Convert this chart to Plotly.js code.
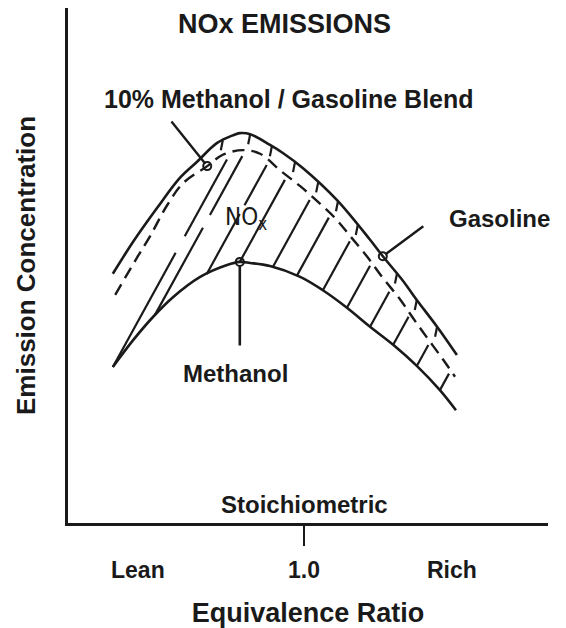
<!DOCTYPE html>
<html>
<head>
<meta charset="utf-8">
<script src="https://cdn.plot.ly/plotly-3.0.1.min.js"></script>
<style>html,body{margin:0;padding:0;background:#fff;}#chart{width:566px;height:628px;}</style>
</head>
<body>
<div id="chart"></div>
<script>
// ---- Data (x = equivalence ratio, y = relative emission concentration) ----
const gasolineX = [0.595,0.638,0.689,0.737,0.773,0.816,0.850,0.864,0.886,0.928,0.956,0.998,1.070,1.140,1.167,1.210,1.239,1.282,1.324];
const gasolineY = [48.4,54.6,61.2,67.0,70.1,73.8,75.3,75.7,75.5,73.4,71.8,68.9,62.7,55.0,51.8,47.0,43.3,38.1,32.6];

const blendX = [0.600,0.646,0.674,0.710,0.744,0.795,0.828,0.871,0.907,0.949,0.992,1.028,1.066,1.098,1.134,1.167,1.203,1.231,1.263,1.295,1.320];
const blendY = [44.3,51.5,55.7,61.7,66.0,69.3,71.5,72.4,71.7,68.5,65.4,62.5,59.2,55.7,51.7,47.6,43.5,39.8,35.7,31.7,28.4];

const methanolX = [0.595,0.638,0.680,0.723,0.780,0.837,0.864,0.886,0.928,0.992,1.040,1.091,1.140,1.189,1.239,1.288,1.322];
const methanolY = [30.3,35.5,40.0,43.9,47.8,50.1,50.7,50.5,49.9,47.8,45.2,41.8,38.1,34.6,30.5,25.8,21.9];

// hatch lines start on the methanol curve at these ratios; short ticks hang from the gasoline curve
const hatchX = [0.595,0.684,0.794,0.864,0.934,0.985,1.040,1.091,1.140,1.189,1.239,1.288];
const tickX  = [0.828,0.886,0.932,0.981,1.030,1.072,1.114,1.197,1.239,1.282];

const axisLabels = ['Lean','1.0','Rich'];
const axisLabelX = [0.648,1.0,1.314];
const stoichX = 1.0;

// ---- Layout geometry ----
const W=566,H=628, M={l:68,r:18,t:8,b:105,pad:0};
const XR=[0.5,1.517], YR=[0,100];
const PW=W-M.l-M.r, PH=H-M.t-M.b;
const toPx=x=>M.l+(x-XR[0])/(XR[1]-XR[0])*PW;
const toPy=y=>M.t+PH-(y-YR[0])/(YR[1]-YR[0])*PH;
const fromPx=p=>XR[0]+(p-M.l)/PW*(XR[1]-XR[0]);
const fromPy=p=>YR[0]+(M.t+PH-p)/PH*(YR[1]-YR[0]);
function interp(xs,ys,x){
  if(x<=xs[0]) return ys[0];
  for(let i=1;i<xs.length;i++){ if(x<=xs[i]){const t=(x-xs[i-1])/(xs[i]-xs[i-1]);return ys[i-1]+t*(ys[i]-ys[i-1]);} }
  return ys[ys.length-1];
}

// hatch segments: from methanol curve up-right toward the blend curve
const hx=[],hy=[];
const slant=0.55, gap=6;
hatchX.forEach(x0=>{
  const sx=toPx(x0), sy=toPy(interp(methanolX,methanolY,x0));
  let t=0, ex=sx, ey=sy;
  while(t<400){
    const qx=sx+slant*t, qy=sy-t;
    const by=toPy(interp(blendX,blendY,fromPx(qx)));
    if(qy<=by+gap){ex=qx;ey=qy;break;}
    t+=0.5;
  }
  const len=sy-ey;
  if(len>100){
    const f1=0.55,f2=0.63;
    hx.push(fromPx(sx),fromPx(sx+(ex-sx)*f1),null,fromPx(sx+(ex-sx)*f2),fromPx(ex),null);
    hy.push(fromPy(sy),fromPy(sy+(ey-sy)*f1),null,fromPy(sy+(ey-sy)*f2),fromPy(ey),null);
  } else {
    hx.push(fromPx(sx),fromPx(ex),null);
    hy.push(fromPy(sy),fromPy(ey),null);
  }
});
const tx=[],ty=[];
tickX.forEach(x0=>{
  const sx=toPx(x0), sy=toPy(interp(gasolineX,gasolineY,x0));
  tx.push(x0,fromPx(sx-2),null);
  ty.push(fromPy(sy),fromPy(sy+10),null);
});

const ink='#1a1a1a';
const iBlend=5, iGas=14, iMeth=6;
const traces=[
  {x:hx,y:hy,mode:'lines',line:{color:ink,width:2.2},hoverinfo:'skip',showlegend:false},
  {x:tx,y:ty,mode:'lines',line:{color:ink,width:2.2},hoverinfo:'skip',showlegend:false},
  {name:'Gasoline',x:gasolineX,y:gasolineY,mode:'lines',line:{color:ink,width:2.6,shape:'spline'}},
  {name:'10% Methanol / Gasoline Blend',x:blendX,y:blendY,mode:'lines',line:{color:ink,width:2.4,shape:'spline',dash:'12px,7px'}},
  {name:'Methanol',x:methanolX,y:methanolY,mode:'lines',line:{color:ink,width:2.6,shape:'spline'}},
  {x:[blendX[iBlend],gasolineX[iGas],methanolX[iMeth]],y:[blendY[iBlend],gasolineY[iGas],methanolY[iMeth]],
   mode:'markers',marker:{symbol:'circle-open',size:8,color:ink,line:{width:2,color:ink}},hoverinfo:'skip',showlegend:false}
];

const bold='Liberation Sans, Arial, Helvetica, sans-serif';
const ann=(text,x,y,size,extra)=>Object.assign({text,x,y,xref:'paper',yref:'paper',showarrow:false,
  font:{family:bold,size,color:ink,weight:'bold'},xanchor:'center',yanchor:'middle'},extra||{});
const yp=p=>(M.t+PH-p)/PH, xp=p=>(p-M.l)/PW;

const annotations=[
  ann('10% Methanol / Gasoline Blend',xp(102),yp(99),25,{xanchor:'left'}),
  ann('Gasoline',xp(447),yp(218),24,{xanchor:'left'}),
  ann('Methanol',xp(181),yp(373),24,{xanchor:'left'}),
  {text:'NO<sub>x</sub>',x:xp(223),y:yp(218),xref:'paper',yref:'paper',showarrow:false,xanchor:'left',yanchor:'middle',
   font:{family:'Liberation Sans Narrow, DejaVu Sans Condensed, sans-serif',size:24,color:ink}},
  ann('Stoichiometric',xp(304),yp(504),24),
  // pointer lines
  {x:blendX[iBlend],y:blendY[iBlend],xref:'x',yref:'y',text:'',showarrow:true,arrowhead:0,arrowwidth:2.4,arrowcolor:ink,ax:-37,ay:-46,standoff:3},
  {x:gasolineX[iGas],y:gasolineY[iGas],xref:'x',yref:'y',text:'',showarrow:true,arrowhead:0,arrowwidth:2.4,arrowcolor:ink,ax:42,ay:-31,standoff:3},
  {x:methanolX[iMeth],y:methanolY[iMeth],xref:'x',yref:'y',text:'',showarrow:true,arrowhead:0,arrowwidth:2.6,arrowcolor:ink,ax:0,ay:85,standoff:3}
];
axisLabels.forEach((t,i)=>annotations.push(Object.assign(ann(t,axisLabelX[i],yp(570),23),{xref:'x'})));

const layout={
  width:W,height:H,margin:M,paper_bgcolor:'#fff',plot_bgcolor:'#fff',showlegend:false,
  title:{text:'NOx EMISSIONS',font:{family:bold,size:27,color:ink,weight:'bold'},xref:'container',x:284.5/W,xanchor:'center',yref:'container',y:1-24/H,yanchor:'middle'},
  xaxis:{range:XR,showgrid:false,zeroline:false,showline:true,linecolor:ink,linewidth:3,
    ticks:'outside',tickvals:[stoichX],ticklen:20,tickwidth:2.4,tickcolor:ink,showticklabels:false,fixedrange:true,
    title:{text:'Equivalence Ratio',font:{family:bold,size:27,color:ink,weight:'bold'},standoff:60}},
  yaxis:{range:YR,showgrid:false,zeroline:false,showline:true,linecolor:ink,linewidth:3,ticks:'',showticklabels:false,fixedrange:true,
    title:{text:'Emission Concentration',font:{family:bold,size:26,color:ink,weight:'bold'},standoff:22}},
  annotations
};
Plotly.newPlot('chart',traces,layout,{displayModeBar:false,staticPlot:true});
</script>
</body>
</html>
